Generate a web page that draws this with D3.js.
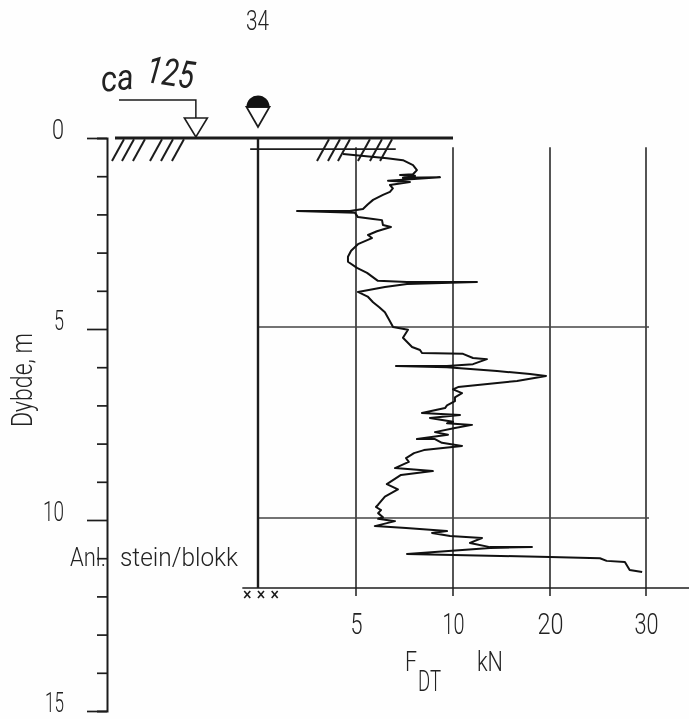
<!DOCTYPE html>
<html><head><meta charset="utf-8">
<script src="https://cdnjs.cloudflare.com/ajax/libs/d3/7.8.5/d3.min.js"></script>
<style>
html,body{margin:0;padding:0;background:#fff}
svg{display:block;filter:blur(0.35px)}
text{font-family:Roboto,"Liberation Sans",sans-serif;font-weight:300;fill:#222}
</style></head><body><svg id="c" width="689" height="719"></svg>
<script>
const forceTicks=[5,10,20,30];
const depthTicks=d3.range(0,16);
const depthLabels=[0,5,10,15];
const depthLabelWidths=[12,10,21,19];
const forceLabelWidths=[12,22,26,24];
const forceDomain=[0,5,10,20,30];
const gridDepths=[5,10];
const profileForce=[4.34,6.6,7.42,7.94,8.14,7.94,7.27,8.04,7.42,9.33,6.65,7.78,6.75,6.9,6.75,6.39,5.88,5.6,5.36,4.69,1.99,4.95,5.1,5.88,6.34,6.39,6.8,6.08,5.62,5.82,5.1,4.75,4.59,4.59,5.05,5.57,6.13,7.63,12.47,7.63,6.49,5.1,5.6,5.88,6.2,6.49,6.7,6.91,7.68,7.42,7.89,8.3,8.4,11.03,12.06,13.5,12.06,9.69,7.06,9.69,14.54,17.94,19.59,16.6,10.52,10,10.93,10.2,10.2,9.69,9.59,8.4,10.72,8.81,10.0,9.69,11.96,10.2,9.07,9.74,8.14,9.07,9.43,10.93,8.5,7.99,7.58,7.72,7.01,8.96,7.32,6.59,7.16,6.49,6.14,6.03,6.29,6.14,6.39,6.14,7.01,5.97,7.58,9.69,8.92,9.85,12.99,11.75,13.81,18.14,13.81,7.63,20,25.2,25.9,27.8,28.3,29.6];
const profileDepth=[0.42,0.53,0.58,0.71,0.84,0.95,0.97,0.99,1.04,1.03,1.12,1.15,1.23,1.32,1.41,1.49,1.62,1.74,1.86,1.91,1.91,1.96,2.07,2.12,2.15,2.28,2.33,2.44,2.54,2.62,2.78,2.95,3.11,3.24,3.40,3.53,3.74,3.77,3.77,3.82,3.90,4.03,4.15,4.30,4.43,4.56,4.75,4.95,5.02,5.23,5.47,5.55,5.63,5.65,5.76,5.79,5.92,5.97,5.97,6.0,6.10,6.18,6.23,6.36,6.52,6.58,6.68,6.79,6.89,7.0,7.07,7.2,7.25,7.33,7.43,7.47,7.51,7.59,7.7,7.77,7.88,7.88,7.98,8.06,8.17,8.25,8.38,8.48,8.64,8.72,8.82,9.06,9.2,9.39,9.6,9.66,9.74,9.82,9.93,9.97,10.03,10.16,10.21,10.29,10.34,10.42,10.47,10.6,10.71,10.71,10.73,10.89,10.97,11.0,11.07,11.1,11.31,11.36];
const hatchLeft=[-7.45,-6.94,-6.38,-5.51,-4.95,-4.39];
const hatchRight=[3.01,3.57,4.08,5.1,5.72,6.24];
const stopMarks=[-0.6,0.1,0.8];

const x=d3.scaleLinear().domain(forceDomain).range([258,356,453,550,646]);
const y=d3.scaleLinear().domain([0,15]).range([138,711]);
const ink="#1c1c1c";
const svg=d3.select("#c");
svg.append("rect").attr("width",689).attr("height",719).attr("fill","#fefefe");
function seg(x1,y1,x2,y2,w,c){return svg.append("line").attr("x1",x1).attr("y1",y1).attr("x2",x2).attr("y2",y2).attr("stroke",c||ink).attr("stroke-width",w);}

// grid
forceTicks.forEach(f=>seg(x(f),y(0.24),x(f),596,1.6,"#2a2a2a"));
gridDepths.forEach(d=>seg(x(0),y(d)-2,x(30)+3,y(d)-2,1.3,"#444"));
seg(x(0),y(0),x(0),588,2.4);
// surface
seg(115,y(0),x(10),y(0),2.8);
seg(x(-0.4),y(0.29),x(7.05),y(0.29),1.7);
seg(x(-0.8),588,689,588,1.6);

// hatch
[...hatchLeft,...hatchRight].forEach(f=>seg(x(f),y(0.6),x(f)+12,y(0.03),2));

// depth axis
const gy=svg.append("g").attr("transform","translate(107,0)")
 .call(d3.axisLeft(y).tickValues(depthTicks).tickSize(10).tickPadding(33)
 .tickFormat(d=>depthLabels.includes(d)?d:""));
gy.select(".domain").attr("stroke",ink).attr("stroke-width",2);
gy.selectAll(".tick line").attr("stroke",ink).attr("stroke-width",1.7)
  .attr("x2",d=>depthLabels.includes(d)?-20:-10);
gy.selectAll(".tick text").attr("font-size",28).attr("dy",0)
  .style("font-family","Roboto").style("font-weight",300)
  .each(function(d){const i=depthLabels.indexOf(d); if(i>=0) d3.select(this).attr("textLength",depthLabelWidths[i]).attr("lengthAdjust","spacingAndGlyphs");});

// force axis
const gx=svg.append("g").attr("transform","translate(0,588)")
 .call(d3.axisBottom(x).tickValues(forceTicks).tickSize(0).tickPadding(26));
gx.select(".domain").remove();
gx.selectAll(".tick text").attr("font-size",29).attr("dy",0)
  .attr("y",46)
  .style("font-family","Roboto").style("font-weight",300)
  .each(function(d){d3.select(this).attr("textLength",forceLabelWidths[forceTicks.indexOf(d)]).attr("lengthAdjust","spacingAndGlyphs");});

// profile
svg.append("path").datum(d3.zip(profileForce,profileDepth))
 .attr("fill","none").attr("stroke","#111").attr("stroke-width",2).attr("stroke-linejoin","round")
 .attr("d",d3.line().x(d=>x(d[0])).y(d=>y(d[1])));

// symbols
const tri=(cx,top,w,h)=>`M${cx-w/2},${top}L${cx+w/2},${top}L${cx},${top+h}Z`;
svg.append("path").attr("d",tri(x(-3.17),118,23,19)).attr("fill","#fff").attr("stroke",ink).attr("stroke-width",1.6);
svg.append("path").attr("d",`M119,100H${x(-3.17)}V118`).attr("fill","none").attr("stroke",ink).attr("stroke-width",1.5);
svg.append("path").attr("d",tri(x(0),107,23,20)).attr("fill","#fff").attr("stroke",ink).attr("stroke-width",1.8);
svg.append("path").attr("d",d3.arc()({innerRadius:0,outerRadius:11.5,startAngle:-Math.PI/2,endAngle:Math.PI/2})).attr("transform",`translate(${x(0)},107)`).attr("fill","#111");
// x marks
stopMarks.forEach(f=>{const cx=x(f)+1;
 seg(cx-3,591,cx+3,598,1.6);seg(cx+3,591,cx-3,598,1.6);});

function txt(s,px,py,size,len){
 const t=svg.append("text").attr("x",px).attr("y",py).attr("font-size",size).text(s);
 if(len)t.attr("textLength",len).attr("lengthAdjust","spacingAndGlyphs");
 return t;
}
txt("34",246,30,28,23);
txt("Anl.",70,566,26,36);
txt("stein/blokk",120,566,26,118);
txt("F",405,671,27,12);
txt("DT",418,691,29,23);
txt("kN",477,671,27,26);
svg.append("text").attr("transform","translate(32,427) rotate(-90)").attr("font-size",30).attr("textLength",94).attr("lengthAdjust","spacingAndGlyphs").text("Dybde, m");
// handwritten note
svg.append("text").attr("transform","translate(102,92) rotate(-6)").attr("font-size",36).style("font-style","italic").style("font-weight",400).attr("textLength",33).attr("lengthAdjust","spacingAndGlyphs").text("ca");
svg.append("text").attr("transform","translate(145,82) rotate(8)").attr("font-size",38).style("font-style","italic").style("font-weight",400).attr("textLength",48).attr("lengthAdjust","spacingAndGlyphs").text("125");
</script></body></html>
